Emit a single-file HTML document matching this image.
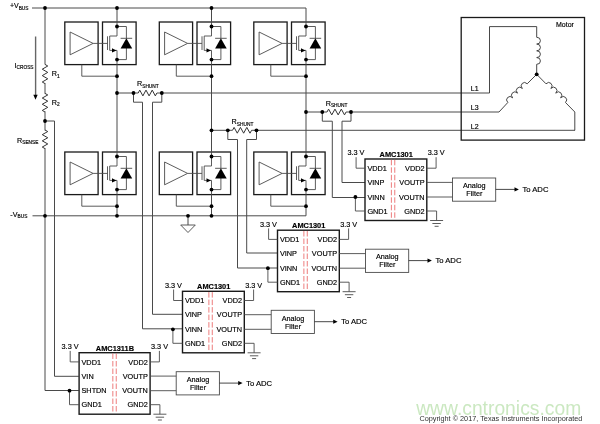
<!DOCTYPE html>
<html><head><meta charset="utf-8"><title>Motor drive current sensing</title>
<style>
html,body{margin:0;padding:0;background:#fff;}
svg{display:block;will-change:transform;filter:opacity(0.999);}
text{font-family:"Liberation Sans",Arial,sans-serif;stroke:#000;stroke-width:0.16px;}
</style></head>
<body>
<svg width="600" height="424" viewBox="0 0 600 424">
<rect width="600" height="424" fill="#fff"/>
<rect x="64.8" y="22" width="33.3" height="42.6" fill="none" stroke="#1a1a1a" stroke-width="1.3"/>
<rect x="102.5" y="22" width="33.6" height="42.6" fill="none" stroke="#1a1a1a" stroke-width="1.3"/>
<path d="M70.1 32 L70.1 54.8 L93.1 43.4 Z" fill="none" stroke="#4a4a4a" stroke-width="0.9"/>
<path d="M93.1 43.4 L107.5 43.4" fill="none" stroke="#4a4a4a" stroke-width="0.9" />
<path d="M107.5 36.3 L107.5 50" fill="none" stroke="#4a4a4a" stroke-width="0.9" />
<path d="M117 22 L117 36 L109.7 36 L109.7 50.4 L112.8 50.4" fill="none" stroke="#4a4a4a" stroke-width="0.9" />
<path d="M112.8 50.4 L117 50.4 L117 64.6" fill="none" stroke="#4a4a4a" stroke-width="0.9" />
<path d="M112 48.2 L116.4 50.4 L112 52.6 Z" fill="#000"/>
<path d="M117 26.5 L126.4 26.5 L126.4 38.4" fill="none" stroke="#4a4a4a" stroke-width="0.9" />
<path d="M126.4 48 L126.4 59.6 L117 59.6" fill="none" stroke="#4a4a4a" stroke-width="0.9" />
<path d="M120.6 38.3 L132.2 38.3" fill="none" stroke="#4a4a4a" stroke-width="0.9" />
<path d="M126.4 38.3 L132.2 48.4 L120.6 48.4 Z" fill="#000"/>
<path d="M81.8 64.6 L81.8 76.2 L117 76.2" fill="none" stroke="#4a4a4a" stroke-width="0.9" />
<rect x="64.8" y="152" width="33.3" height="42.6" fill="none" stroke="#1a1a1a" stroke-width="1.3"/>
<rect x="102.5" y="152" width="33.6" height="42.6" fill="none" stroke="#1a1a1a" stroke-width="1.3"/>
<path d="M70.1 162 L70.1 184.8 L93.1 173.4 Z" fill="none" stroke="#4a4a4a" stroke-width="0.9"/>
<path d="M93.1 173.4 L107.5 173.4" fill="none" stroke="#4a4a4a" stroke-width="0.9" />
<path d="M107.5 166.3 L107.5 180" fill="none" stroke="#4a4a4a" stroke-width="0.9" />
<path d="M117 152 L117 166 L109.7 166 L109.7 180.4 L112.8 180.4" fill="none" stroke="#4a4a4a" stroke-width="0.9" />
<path d="M112.8 180.4 L117 180.4 L117 194.6" fill="none" stroke="#4a4a4a" stroke-width="0.9" />
<path d="M112 178.2 L116.4 180.4 L112 182.6 Z" fill="#000"/>
<path d="M117 156.5 L126.4 156.5 L126.4 168.4" fill="none" stroke="#4a4a4a" stroke-width="0.9" />
<path d="M126.4 178 L126.4 189.6 L117 189.6" fill="none" stroke="#4a4a4a" stroke-width="0.9" />
<path d="M120.6 168.3 L132.2 168.3" fill="none" stroke="#4a4a4a" stroke-width="0.9" />
<path d="M126.4 168.3 L132.2 178.4 L120.6 178.4 Z" fill="#000"/>
<path d="M81.8 194.6 L81.8 206.2 L117 206.2" fill="none" stroke="#4a4a4a" stroke-width="0.9" />
<rect x="159.3" y="22" width="33.3" height="42.6" fill="none" stroke="#1a1a1a" stroke-width="1.3"/>
<rect x="197" y="22" width="33.6" height="42.6" fill="none" stroke="#1a1a1a" stroke-width="1.3"/>
<path d="M164.6 32 L164.6 54.8 L187.6 43.4 Z" fill="none" stroke="#4a4a4a" stroke-width="0.9"/>
<path d="M187.6 43.4 L202 43.4" fill="none" stroke="#4a4a4a" stroke-width="0.9" />
<path d="M202 36.3 L202 50" fill="none" stroke="#4a4a4a" stroke-width="0.9" />
<path d="M211.5 22 L211.5 36 L204.2 36 L204.2 50.4 L207.3 50.4" fill="none" stroke="#4a4a4a" stroke-width="0.9" />
<path d="M207.3 50.4 L211.5 50.4 L211.5 64.6" fill="none" stroke="#4a4a4a" stroke-width="0.9" />
<path d="M206.5 48.2 L210.9 50.4 L206.5 52.6 Z" fill="#000"/>
<path d="M211.5 26.5 L220.9 26.5 L220.9 38.4" fill="none" stroke="#4a4a4a" stroke-width="0.9" />
<path d="M220.9 48 L220.9 59.6 L211.5 59.6" fill="none" stroke="#4a4a4a" stroke-width="0.9" />
<path d="M215.1 38.3 L226.7 38.3" fill="none" stroke="#4a4a4a" stroke-width="0.9" />
<path d="M220.9 38.3 L226.7 48.4 L215.1 48.4 Z" fill="#000"/>
<path d="M176.3 64.6 L176.3 76.2 L211.5 76.2" fill="none" stroke="#4a4a4a" stroke-width="0.9" />
<rect x="159.3" y="152" width="33.3" height="42.6" fill="none" stroke="#1a1a1a" stroke-width="1.3"/>
<rect x="197" y="152" width="33.6" height="42.6" fill="none" stroke="#1a1a1a" stroke-width="1.3"/>
<path d="M164.6 162 L164.6 184.8 L187.6 173.4 Z" fill="none" stroke="#4a4a4a" stroke-width="0.9"/>
<path d="M187.6 173.4 L202 173.4" fill="none" stroke="#4a4a4a" stroke-width="0.9" />
<path d="M202 166.3 L202 180" fill="none" stroke="#4a4a4a" stroke-width="0.9" />
<path d="M211.5 152 L211.5 166 L204.2 166 L204.2 180.4 L207.3 180.4" fill="none" stroke="#4a4a4a" stroke-width="0.9" />
<path d="M207.3 180.4 L211.5 180.4 L211.5 194.6" fill="none" stroke="#4a4a4a" stroke-width="0.9" />
<path d="M206.5 178.2 L210.9 180.4 L206.5 182.6 Z" fill="#000"/>
<path d="M211.5 156.5 L220.9 156.5 L220.9 168.4" fill="none" stroke="#4a4a4a" stroke-width="0.9" />
<path d="M220.9 178 L220.9 189.6 L211.5 189.6" fill="none" stroke="#4a4a4a" stroke-width="0.9" />
<path d="M215.1 168.3 L226.7 168.3" fill="none" stroke="#4a4a4a" stroke-width="0.9" />
<path d="M220.9 168.3 L226.7 178.4 L215.1 178.4 Z" fill="#000"/>
<path d="M176.3 194.6 L176.3 206.2 L211.5 206.2" fill="none" stroke="#4a4a4a" stroke-width="0.9" />
<rect x="253.8" y="22" width="33.3" height="42.6" fill="none" stroke="#1a1a1a" stroke-width="1.3"/>
<rect x="291.5" y="22" width="33.6" height="42.6" fill="none" stroke="#1a1a1a" stroke-width="1.3"/>
<path d="M259.1 32 L259.1 54.8 L282.1 43.4 Z" fill="none" stroke="#4a4a4a" stroke-width="0.9"/>
<path d="M282.1 43.4 L296.5 43.4" fill="none" stroke="#4a4a4a" stroke-width="0.9" />
<path d="M296.5 36.3 L296.5 50" fill="none" stroke="#4a4a4a" stroke-width="0.9" />
<path d="M306 22 L306 36 L298.7 36 L298.7 50.4 L301.8 50.4" fill="none" stroke="#4a4a4a" stroke-width="0.9" />
<path d="M301.8 50.4 L306 50.4 L306 64.6" fill="none" stroke="#4a4a4a" stroke-width="0.9" />
<path d="M301 48.2 L305.4 50.4 L301 52.6 Z" fill="#000"/>
<path d="M306 26.5 L315.4 26.5 L315.4 38.4" fill="none" stroke="#4a4a4a" stroke-width="0.9" />
<path d="M315.4 48 L315.4 59.6 L306 59.6" fill="none" stroke="#4a4a4a" stroke-width="0.9" />
<path d="M309.6 38.3 L321.2 38.3" fill="none" stroke="#4a4a4a" stroke-width="0.9" />
<path d="M315.4 38.3 L321.2 48.4 L309.6 48.4 Z" fill="#000"/>
<path d="M270.8 64.6 L270.8 76.2 L306 76.2" fill="none" stroke="#4a4a4a" stroke-width="0.9" />
<rect x="253.8" y="152" width="33.3" height="42.6" fill="none" stroke="#1a1a1a" stroke-width="1.3"/>
<rect x="291.5" y="152" width="33.6" height="42.6" fill="none" stroke="#1a1a1a" stroke-width="1.3"/>
<path d="M259.1 162 L259.1 184.8 L282.1 173.4 Z" fill="none" stroke="#4a4a4a" stroke-width="0.9"/>
<path d="M282.1 173.4 L296.5 173.4" fill="none" stroke="#4a4a4a" stroke-width="0.9" />
<path d="M296.5 166.3 L296.5 180" fill="none" stroke="#4a4a4a" stroke-width="0.9" />
<path d="M306 152 L306 166 L298.7 166 L298.7 180.4 L301.8 180.4" fill="none" stroke="#4a4a4a" stroke-width="0.9" />
<path d="M301.8 180.4 L306 180.4 L306 194.6" fill="none" stroke="#4a4a4a" stroke-width="0.9" />
<path d="M301 178.2 L305.4 180.4 L301 182.6 Z" fill="#000"/>
<path d="M306 156.5 L315.4 156.5 L315.4 168.4" fill="none" stroke="#4a4a4a" stroke-width="0.9" />
<path d="M315.4 178 L315.4 189.6 L306 189.6" fill="none" stroke="#4a4a4a" stroke-width="0.9" />
<path d="M309.6 168.3 L321.2 168.3" fill="none" stroke="#4a4a4a" stroke-width="0.9" />
<path d="M315.4 168.3 L321.2 178.4 L309.6 178.4 Z" fill="#000"/>
<path d="M270.8 194.6 L270.8 206.2 L306 206.2" fill="none" stroke="#4a4a4a" stroke-width="0.9" />
<path d="M117 8 L117 22" fill="none" stroke="#4a4a4a" stroke-width="1.0" />
<path d="M117 64.6 L117 152" fill="none" stroke="#4a4a4a" stroke-width="1.0" />
<path d="M117 194.6 L117 215.8" fill="none" stroke="#4a4a4a" stroke-width="1.0" />
<path d="M211.5 8 L211.5 22" fill="none" stroke="#4a4a4a" stroke-width="1.0" />
<path d="M211.5 64.6 L211.5 152" fill="none" stroke="#4a4a4a" stroke-width="1.0" />
<path d="M211.5 194.6 L211.5 215.8" fill="none" stroke="#4a4a4a" stroke-width="1.0" />
<path d="M306 8 L306 22" fill="none" stroke="#4a4a4a" stroke-width="1.0" />
<path d="M306 64.6 L306 152" fill="none" stroke="#4a4a4a" stroke-width="1.0" />
<path d="M306 194.6 L306 215.8" fill="none" stroke="#4a4a4a" stroke-width="1.0" />
<path d="M32 8 L306 8" fill="none" stroke="#4a4a4a" stroke-width="1.0" />
<path d="M32.5 215.8 L306 215.8" fill="none" stroke="#4a4a4a" stroke-width="1.0" />
<path d="M45 8 L45 64.5" fill="none" stroke="#4a4a4a" stroke-width="1.0" />
<path d="M45 64.4 L47.75 66 L42.25 69.2 L47.75 72.4 L42.25 75.6 L47.75 78.8 L42.25 82 L45 83.6" fill="none" stroke="#333" stroke-width="1.0" />
<path d="M45 83 L45 93.8" fill="none" stroke="#4a4a4a" stroke-width="1.0" />
<path d="M45 93.4 L47.75 94.95 L42.25 98.05 L47.75 101.15 L42.25 104.25 L47.75 107.35 L42.25 110.45 L45 112" fill="none" stroke="#333" stroke-width="1.0" />
<path d="M45 111.3 L45 130.5" fill="none" stroke="#4a4a4a" stroke-width="1.0" />
<path d="M45 130 L47.75 131.55 L42.25 134.65 L47.75 137.75 L42.25 140.85 L47.75 143.95 L42.25 147.05 L45 148.6" fill="none" stroke="#333" stroke-width="1.0" />
<path d="M45 148 L45 390.5 L78.8 390.5" fill="none" stroke="#4a4a4a" stroke-width="1.0" />
<path d="M45 121 L54.5 121 L54.5 376.3 L78.8 376.3" fill="none" stroke="#4a4a4a" stroke-width="1.0" />
<path d="M35.6 36.5 L35.6 96" fill="none" stroke="#666" stroke-width="1.4" />
<path d="M33.3 94.8 L37.7 94.8 L35.5 99.8 Z" fill="#000"/>
<path d="M188 215.8 L188 225" fill="none" stroke="#4a4a4a" stroke-width="1.0" />
<path d="M180.7 225 L195.3 225 L188 232.5 Z" fill="none" stroke="#4a4a4a" stroke-width="0.9"/>
<path d="M117 93 L133.5 93" fill="none" stroke="#4a4a4a" stroke-width="1.0" />
<path d="M138.2 93 L139.758 90.1 L142.875 95.9 L145.992 90.1 L149.108 95.9 L152.225 90.1 L155.342 95.9 L156.9 93" fill="none" stroke="#333" stroke-width="1.0" />
<path d="M133.5 93 L138.2 93" fill="none" stroke="#4a4a4a" stroke-width="1.0" />
<path d="M156.9 93 L161.8 93" fill="none" stroke="#4a4a4a" stroke-width="1.0" />
<path d="M161.8 93 L489.5 93" fill="none" stroke="#4a4a4a" stroke-width="1.0" />
<path d="M133.5 93 L133.5 102.2 L142.5 102.2 L142.5 328.8 L182.5 328.8" fill="none" stroke="#4a4a4a" stroke-width="1.0" />
<path d="M161.8 93 L161.8 102.2 L152.5 102.2 L152.5 314.3 L182.5 314.3" fill="none" stroke="#4a4a4a" stroke-width="1.0" />
<path d="M211.5 130.3 L227.8 130.3" fill="none" stroke="#4a4a4a" stroke-width="1.0" />
<path d="M232.5 130.3 L234.092 127.4 L237.275 133.2 L240.458 127.4 L243.642 133.2 L246.825 127.4 L250.008 133.2 L251.6 130.3" fill="none" stroke="#333" stroke-width="1.0" />
<path d="M227.8 130.3 L232.5 130.3" fill="none" stroke="#4a4a4a" stroke-width="1.0" />
<path d="M251.6 130.3 L256.5 130.3" fill="none" stroke="#4a4a4a" stroke-width="1.0" />
<path d="M256.5 130.3 L575 130.3" fill="none" stroke="#4a4a4a" stroke-width="1.0" />
<path d="M227.8 130.3 L227.8 139.5 L237.5 139.5 L237.5 268 L277.5 268" fill="none" stroke="#4a4a4a" stroke-width="1.0" />
<path d="M256.5 130.3 L256.5 139.5 L246.7 139.5 L246.7 253 L277.5 253" fill="none" stroke="#4a4a4a" stroke-width="1.0" />
<path d="M306 112 L322.3 112" fill="none" stroke="#4a4a4a" stroke-width="1.0" />
<path d="M327 112 L328.592 109.1 L331.775 114.9 L334.958 109.1 L338.142 114.9 L341.325 109.1 L344.508 114.9 L346.1 112" fill="none" stroke="#333" stroke-width="1.0" />
<path d="M322.3 112 L327 112" fill="none" stroke="#4a4a4a" stroke-width="1.0" />
<path d="M346.1 112 L351 112" fill="none" stroke="#4a4a4a" stroke-width="1.0" />
<path d="M351 112 L499 112" fill="none" stroke="#4a4a4a" stroke-width="1.0" />
<path d="M322.3 112 L322.3 121.2 L332.3 121.2 L332.3 197.5 L365 197.5" fill="none" stroke="#4a4a4a" stroke-width="1.0" />
<path d="M351 112 L351 121.2 L342 121.2 L342 182.5 L365 182.5" fill="none" stroke="#4a4a4a" stroke-width="1.0" />
<rect x="461.2" y="17.5" width="123.3" height="122.6" fill="none" stroke="#1a1a1a" stroke-width="1.3"/>
<path d="M489.5 93 L489.5 26.6 L536.7 26.6 L536.7 37.3" fill="none" stroke="#333" stroke-width="0.9" />
<path d="M536.7 37.3 A3.21 3.54 90.0 0 1 536.70 44.05 A3.21 3.54 90.0 0 1 536.70 50.80 A3.21 3.54 90.0 0 1 536.70 57.55 A3.21 3.54 90.0 0 1 536.70 64.30" fill="none" stroke="#333" stroke-width="0.9"/>
<path d="M536.7 64.3 L536.7 74.3" fill="none" stroke="#333" stroke-width="0.9" />
<path d="M499 112 L507.8 102.5" fill="none" stroke="#333" stroke-width="0.9" />
<path d="M507.8 102.5 A3.20 3.54 -43.9 0 1 512.65 97.83 A3.20 3.54 -43.9 0 1 517.50 93.15 A3.20 3.54 -43.9 0 1 522.35 88.47 A3.20 3.54 -43.9 0 1 527.20 83.80" fill="none" stroke="#333" stroke-width="0.9"/>
<path d="M527.2 83.8 L536.7 74.3" fill="none" stroke="#333" stroke-width="0.9" />
<path d="M536.7 74.3 L546 83.8" fill="none" stroke="#333" stroke-width="0.9" />
<path d="M546 83.8 A3.21 3.55 43.8 0 1 550.88 88.47 A3.21 3.55 43.8 0 1 555.75 93.15 A3.21 3.55 43.8 0 1 560.62 97.83 A3.21 3.55 43.8 0 1 565.50 102.50" fill="none" stroke="#333" stroke-width="0.9"/>
<path d="M565.5 102.5 L574.8 112 L574.8 130.3" fill="none" stroke="#333" stroke-width="0.9" />
<text x="556" y="26.7" font-size="7" text-anchor="start" font-weight="normal" fill="#000" >Motor</text>
<text x="470.8" y="90.7" font-size="7.0" text-anchor="start" font-weight="normal" fill="#000" >L1</text>
<text x="470.8" y="109.8" font-size="7.0" text-anchor="start" font-weight="normal" fill="#000" >L3</text>
<text x="470.8" y="128.9" font-size="7.0" text-anchor="start" font-weight="normal" fill="#000" >L2</text>
<rect x="365" y="159" width="61.8" height="61.5" fill="none" stroke="#1a1a1a" stroke-width="1.4"/>
<text x="396.2" y="156.8" font-size="7.4" text-anchor="middle" font-weight="bold" fill="#000" >AMC1301</text>
<text x="367.4" y="170.8" font-size="7.3" text-anchor="start" font-weight="normal" fill="#000" >VDD1</text>
<text x="367.4" y="185" font-size="7.3" text-anchor="start" font-weight="normal" fill="#000" >VINP</text>
<text x="367.4" y="199.6" font-size="7.3" text-anchor="start" font-weight="normal" fill="#000" >VINN</text>
<text x="367.4" y="213.6" font-size="7.3" text-anchor="start" font-weight="normal" fill="#000" >GND1</text>
<text x="424.5" y="170.8" font-size="7.3" text-anchor="end" font-weight="normal" fill="#000" >VDD2</text>
<text x="424.5" y="185" font-size="7.3" text-anchor="end" font-weight="normal" fill="#000" >VOUTP</text>
<text x="424.5" y="199.6" font-size="7.3" text-anchor="end" font-weight="normal" fill="#000" >VOUTN</text>
<text x="424.5" y="213.6" font-size="7.3" text-anchor="end" font-weight="normal" fill="#000" >GND2</text>
<path d="M391.38 159.8 L391.38 219.7" stroke="#e85a5a" stroke-width="0.8" stroke-dasharray="5.5 2" fill="none"/>
<path d="M394.78 159.8 L394.78 219.7" stroke="#e85a5a" stroke-width="0.8" stroke-dasharray="5.5 2" fill="none"/>
<text x="364.5" y="155.4" font-size="7.3" text-anchor="end" font-weight="normal" fill="#000" >3.3 V</text>
<path d="M356.1 157.2 L356.1 168.2 L365 168.2" fill="none" stroke="#4a4a4a" stroke-width="0.9" />
<path d="M355.4 197 L355.4 211 L365 211" fill="none" stroke="#4a4a4a" stroke-width="0.9" />
<text x="427.7" y="155.4" font-size="7.3" text-anchor="start" font-weight="normal" fill="#000" >3.3 V</text>
<path d="M426.8 168.2 L436.1 168.2 L436.1 157.2" fill="none" stroke="#4a4a4a" stroke-width="0.9" />
<path d="M426.8 211 L436.6 211 L436.6 220.5" fill="none" stroke="#4a4a4a" stroke-width="0.9" />
<path d="M430.1 220.5 L443.1 220.5" fill="none" stroke="#4a4a4a" stroke-width="0.9" />
<path d="M432.4 223.5 L440.8 223.5" fill="none" stroke="#4a4a4a" stroke-width="0.9" />
<path d="M434.6 226.3 L438.6 226.3" fill="none" stroke="#4a4a4a" stroke-width="0.9" />
<path d="M426.8 182.4 L452.5 182.4" fill="none" stroke="#4a4a4a" stroke-width="0.9" />
<path d="M426.8 197 L452.5 197" fill="none" stroke="#4a4a4a" stroke-width="0.9" />
<rect x="452.5" y="178" width="43.2" height="23.2" fill="none" stroke="#4a4a4a" stroke-width="0.9"/>
<text x="474.3" y="188.2" font-size="7.25" text-anchor="middle" font-weight="normal" fill="#000" >Analog</text>
<text x="474.3" y="196.2" font-size="7.25" text-anchor="middle" font-weight="normal" fill="#000" >Filter</text>
<path d="M495.7 189.4 L515 189.4" fill="none" stroke="#333" stroke-width="0.9" />
<path d="M514.5 187.3 L518.9 189.4 L514.5 191.5 Z" fill="#000"/>
<text x="522.5" y="192.15" font-size="7.65" text-anchor="start" font-weight="normal" fill="#000" >To ADC</text>
<rect x="277.5" y="230.2" width="61.8" height="61.5" fill="none" stroke="#1a1a1a" stroke-width="1.4"/>
<text x="308.7" y="228" font-size="7.4" text-anchor="middle" font-weight="bold" fill="#000" >AMC1301</text>
<text x="279.9" y="242" font-size="7.3" text-anchor="start" font-weight="normal" fill="#000" >VDD1</text>
<text x="279.9" y="256.2" font-size="7.3" text-anchor="start" font-weight="normal" fill="#000" >VINP</text>
<text x="279.9" y="270.8" font-size="7.3" text-anchor="start" font-weight="normal" fill="#000" >VINN</text>
<text x="279.9" y="284.8" font-size="7.3" text-anchor="start" font-weight="normal" fill="#000" >GND1</text>
<text x="337" y="242" font-size="7.3" text-anchor="end" font-weight="normal" fill="#000" >VDD2</text>
<text x="337" y="256.2" font-size="7.3" text-anchor="end" font-weight="normal" fill="#000" >VOUTP</text>
<text x="337" y="270.8" font-size="7.3" text-anchor="end" font-weight="normal" fill="#000" >VOUTN</text>
<text x="337" y="284.8" font-size="7.3" text-anchor="end" font-weight="normal" fill="#000" >GND2</text>
<path d="M303.88 231 L303.88 290.9" stroke="#e85a5a" stroke-width="0.8" stroke-dasharray="5.5 2" fill="none"/>
<path d="M307.28 231 L307.28 290.9" stroke="#e85a5a" stroke-width="0.8" stroke-dasharray="5.5 2" fill="none"/>
<text x="277" y="226.6" font-size="7.3" text-anchor="end" font-weight="normal" fill="#000" >3.3 V</text>
<path d="M268.6 228.4 L268.6 239.4 L277.5 239.4" fill="none" stroke="#4a4a4a" stroke-width="0.9" />
<path d="M267.9 268.2 L267.9 282.2 L277.5 282.2" fill="none" stroke="#4a4a4a" stroke-width="0.9" />
<text x="340.2" y="226.6" font-size="7.3" text-anchor="start" font-weight="normal" fill="#000" >3.3 V</text>
<path d="M339.3 239.4 L348.6 239.4 L348.6 228.4" fill="none" stroke="#4a4a4a" stroke-width="0.9" />
<path d="M339.3 282.2 L349.1 282.2 L349.1 291.7" fill="none" stroke="#4a4a4a" stroke-width="0.9" />
<path d="M342.6 291.7 L355.6 291.7" fill="none" stroke="#4a4a4a" stroke-width="0.9" />
<path d="M344.9 294.7 L353.3 294.7" fill="none" stroke="#4a4a4a" stroke-width="0.9" />
<path d="M347.1 297.5 L351.1 297.5" fill="none" stroke="#4a4a4a" stroke-width="0.9" />
<path d="M339.3 253.6 L365.5 253.6" fill="none" stroke="#4a4a4a" stroke-width="0.9" />
<path d="M339.3 268.2 L365.5 268.2" fill="none" stroke="#4a4a4a" stroke-width="0.9" />
<rect x="365.5" y="249.2" width="43.2" height="23.2" fill="none" stroke="#4a4a4a" stroke-width="0.9"/>
<text x="387.3" y="259.4" font-size="7.25" text-anchor="middle" font-weight="normal" fill="#000" >Analog</text>
<text x="387.3" y="267.4" font-size="7.25" text-anchor="middle" font-weight="normal" fill="#000" >Filter</text>
<path d="M408.7 260.6 L428 260.6" fill="none" stroke="#333" stroke-width="0.9" />
<path d="M427.5 258.5 L431.9 260.6 L427.5 262.7 Z" fill="#000"/>
<text x="435.5" y="263.35" font-size="7.65" text-anchor="start" font-weight="normal" fill="#000" >To ADC</text>
<rect x="182.5" y="291.3" width="61.8" height="61.5" fill="none" stroke="#1a1a1a" stroke-width="1.4"/>
<text x="213.7" y="289.1" font-size="7.4" text-anchor="middle" font-weight="bold" fill="#000" >AMC1301</text>
<text x="184.9" y="303.1" font-size="7.3" text-anchor="start" font-weight="normal" fill="#000" >VDD1</text>
<text x="184.9" y="317.3" font-size="7.3" text-anchor="start" font-weight="normal" fill="#000" >VINP</text>
<text x="184.9" y="331.9" font-size="7.3" text-anchor="start" font-weight="normal" fill="#000" >VINN</text>
<text x="184.9" y="345.9" font-size="7.3" text-anchor="start" font-weight="normal" fill="#000" >GND1</text>
<text x="242" y="303.1" font-size="7.3" text-anchor="end" font-weight="normal" fill="#000" >VDD2</text>
<text x="242" y="317.3" font-size="7.3" text-anchor="end" font-weight="normal" fill="#000" >VOUTP</text>
<text x="242" y="331.9" font-size="7.3" text-anchor="end" font-weight="normal" fill="#000" >VOUTN</text>
<text x="242" y="345.9" font-size="7.3" text-anchor="end" font-weight="normal" fill="#000" >GND2</text>
<path d="M208.88 292.1 L208.88 352" stroke="#e85a5a" stroke-width="0.8" stroke-dasharray="5.5 2" fill="none"/>
<path d="M212.28 292.1 L212.28 352" stroke="#e85a5a" stroke-width="0.8" stroke-dasharray="5.5 2" fill="none"/>
<text x="182" y="287.7" font-size="7.3" text-anchor="end" font-weight="normal" fill="#000" >3.3 V</text>
<path d="M173.6 289.5 L173.6 300.5 L182.5 300.5" fill="none" stroke="#4a4a4a" stroke-width="0.9" />
<path d="M172.9 329.3 L172.9 343.3 L182.5 343.3" fill="none" stroke="#4a4a4a" stroke-width="0.9" />
<text x="245.2" y="287.7" font-size="7.3" text-anchor="start" font-weight="normal" fill="#000" >3.3 V</text>
<path d="M244.3 300.5 L253.6 300.5 L253.6 289.5" fill="none" stroke="#4a4a4a" stroke-width="0.9" />
<path d="M244.3 343.3 L254.1 343.3 L254.1 352.8" fill="none" stroke="#4a4a4a" stroke-width="0.9" />
<path d="M247.6 352.8 L260.6 352.8" fill="none" stroke="#4a4a4a" stroke-width="0.9" />
<path d="M249.9 355.8 L258.3 355.8" fill="none" stroke="#4a4a4a" stroke-width="0.9" />
<path d="M252.1 358.6 L256.1 358.6" fill="none" stroke="#4a4a4a" stroke-width="0.9" />
<path d="M244.3 314.7 L271.2 314.7" fill="none" stroke="#4a4a4a" stroke-width="0.9" />
<path d="M244.3 329.3 L271.2 329.3" fill="none" stroke="#4a4a4a" stroke-width="0.9" />
<rect x="271.2" y="310.3" width="43.2" height="23.2" fill="none" stroke="#4a4a4a" stroke-width="0.9"/>
<text x="293" y="320.5" font-size="7.25" text-anchor="middle" font-weight="normal" fill="#000" >Analog</text>
<text x="293" y="328.5" font-size="7.25" text-anchor="middle" font-weight="normal" fill="#000" >Filter</text>
<path d="M314.4 321.7 L333.7 321.7" fill="none" stroke="#333" stroke-width="0.9" />
<path d="M333.2 319.6 L337.6 321.7 L333.2 323.8 Z" fill="#000"/>
<text x="341.2" y="324.45" font-size="7.65" text-anchor="start" font-weight="normal" fill="#000" >To ADC</text>
<rect x="79.1" y="352.7" width="71" height="61.5" fill="none" stroke="#1a1a1a" stroke-width="1.4"/>
<text x="114.9" y="350.5" font-size="7.4" text-anchor="middle" font-weight="bold" fill="#000" >AMC1311B</text>
<text x="81.5" y="364.5" font-size="7.3" text-anchor="start" font-weight="normal" fill="#000" >VDD1</text>
<text x="81.5" y="378.7" font-size="7.3" text-anchor="start" font-weight="normal" fill="#000" >VIN</text>
<text x="81.5" y="393.3" font-size="7.3" text-anchor="start" font-weight="normal" fill="#000" >SHTDN</text>
<text x="81.5" y="407.3" font-size="7.3" text-anchor="start" font-weight="normal" fill="#000" >GND1</text>
<text x="147.8" y="364.5" font-size="7.3" text-anchor="end" font-weight="normal" fill="#000" >VDD2</text>
<text x="147.8" y="378.7" font-size="7.3" text-anchor="end" font-weight="normal" fill="#000" >VOUTP</text>
<text x="147.8" y="393.3" font-size="7.3" text-anchor="end" font-weight="normal" fill="#000" >VOUTN</text>
<text x="147.8" y="407.3" font-size="7.3" text-anchor="end" font-weight="normal" fill="#000" >GND2</text>
<path d="M112.84 353.5 L112.84 413.4" stroke="#e85a5a" stroke-width="0.8" stroke-dasharray="5.5 2" fill="none"/>
<path d="M116.24 353.5 L116.24 413.4" stroke="#e85a5a" stroke-width="0.8" stroke-dasharray="5.5 2" fill="none"/>
<text x="78.6" y="349.1" font-size="7.3" text-anchor="end" font-weight="normal" fill="#000" >3.3 V</text>
<path d="M70.2 350.9 L70.2 361.9 L79.1 361.9" fill="none" stroke="#4a4a4a" stroke-width="0.9" />
<path d="M69.5 390.7 L69.5 404.7 L79.1 404.7" fill="none" stroke="#4a4a4a" stroke-width="0.9" />
<text x="151" y="349.1" font-size="7.3" text-anchor="start" font-weight="normal" fill="#000" >3.3 V</text>
<path d="M150.1 361.9 L159.4 361.9 L159.4 350.9" fill="none" stroke="#4a4a4a" stroke-width="0.9" />
<path d="M150.1 404.7 L159.9 404.7 L159.9 414.2" fill="none" stroke="#4a4a4a" stroke-width="0.9" />
<path d="M153.4 414.2 L166.4 414.2" fill="none" stroke="#4a4a4a" stroke-width="0.9" />
<path d="M155.7 417.2 L164.1 417.2" fill="none" stroke="#4a4a4a" stroke-width="0.9" />
<path d="M157.9 420 L161.9 420" fill="none" stroke="#4a4a4a" stroke-width="0.9" />
<path d="M150.1 376.1 L176.2 376.1" fill="none" stroke="#4a4a4a" stroke-width="0.9" />
<path d="M150.1 390.7 L176.2 390.7" fill="none" stroke="#4a4a4a" stroke-width="0.9" />
<rect x="176.2" y="371.7" width="43.2" height="23.2" fill="none" stroke="#4a4a4a" stroke-width="0.9"/>
<text x="198" y="381.9" font-size="7.25" text-anchor="middle" font-weight="normal" fill="#000" >Analog</text>
<text x="198" y="389.9" font-size="7.25" text-anchor="middle" font-weight="normal" fill="#000" >Filter</text>
<path d="M219.4 383.1 L238.7 383.1" fill="none" stroke="#333" stroke-width="0.9" />
<path d="M238.2 381 L242.6 383.1 L238.2 385.2 Z" fill="#000"/>
<text x="246.2" y="385.85" font-size="7.65" text-anchor="start" font-weight="normal" fill="#000" >To ADC</text>
<text x="9.9" y="8.3" font-size="7.0" fill="#000">+V<tspan font-size="4.8" dy="1.4">BUS</tspan></text>
<text x="10.3" y="216.5" font-size="7.2" fill="#000">-V<tspan font-size="4.8" dy="1.4">BUS</tspan></text>
<text x="14.5" y="67.8" font-size="7.2" fill="#000">I<tspan font-size="4.8" dy="1.4">CROSS</tspan></text>
<text x="51.7" y="76.4" font-size="7.2" fill="#000">R<tspan font-size="4.8" dy="1.4">1</tspan></text>
<text x="51.7" y="105" font-size="7.2" fill="#000">R<tspan font-size="4.8" dy="1.4">2</tspan></text>
<text x="17" y="142.6" font-size="7.2" fill="#000">R<tspan font-size="4.8" dy="1.4">SENSE</tspan></text>
<text x="137" y="86.4" font-size="7.2" fill="#000">R<tspan font-size="4.8" dy="1.4">SHUNT</tspan></text>
<text x="231.6" y="124.4" font-size="7.2" fill="#000">R<tspan font-size="4.8" dy="1.4">SHUNT</tspan></text>
<text x="325.7" y="105.6" font-size="7.2" fill="#000">R<tspan font-size="4.8" dy="1.4">SHUNT</tspan></text>
<text x="416.2" y="414.7" font-size="19.3" text-anchor="start" font-weight="normal" fill="#cbe8c1" style="stroke:none">www.cntronics.com</text>
<text x="419.4" y="420.8" font-size="7.3" text-anchor="start" font-weight="normal" fill="#333" style="stroke:none">Copyright © 2017, Texas Instruments Incorporated</text>
<circle cx="117" cy="26.5" r="1.9" fill="#000"/>
<circle cx="117" cy="59.6" r="1.9" fill="#000"/>
<circle cx="117" cy="76.2" r="1.9" fill="#000"/>
<circle cx="117" cy="156.5" r="1.9" fill="#000"/>
<circle cx="117" cy="189.6" r="1.9" fill="#000"/>
<circle cx="117" cy="206.2" r="1.9" fill="#000"/>
<circle cx="211.5" cy="26.5" r="1.9" fill="#000"/>
<circle cx="211.5" cy="59.6" r="1.9" fill="#000"/>
<circle cx="211.5" cy="76.2" r="1.9" fill="#000"/>
<circle cx="211.5" cy="156.5" r="1.9" fill="#000"/>
<circle cx="211.5" cy="189.6" r="1.9" fill="#000"/>
<circle cx="211.5" cy="206.2" r="1.9" fill="#000"/>
<circle cx="306" cy="26.5" r="1.9" fill="#000"/>
<circle cx="306" cy="59.6" r="1.9" fill="#000"/>
<circle cx="306" cy="76.2" r="1.9" fill="#000"/>
<circle cx="306" cy="156.5" r="1.9" fill="#000"/>
<circle cx="306" cy="189.6" r="1.9" fill="#000"/>
<circle cx="306" cy="206.2" r="1.9" fill="#000"/>
<circle cx="117" cy="8" r="1.9" fill="#000"/>
<circle cx="117" cy="215.8" r="1.9" fill="#000"/>
<circle cx="211.5" cy="8" r="1.9" fill="#000"/>
<circle cx="211.5" cy="215.8" r="1.9" fill="#000"/>
<circle cx="45" cy="8" r="1.9" fill="#000"/>
<circle cx="45" cy="215.8" r="1.9" fill="#000"/>
<circle cx="45" cy="121" r="1.9" fill="#000"/>
<circle cx="188" cy="215.8" r="1.9" fill="#000"/>
<circle cx="117" cy="93" r="1.9" fill="#000"/>
<circle cx="133.5" cy="93" r="1.9" fill="#000"/>
<circle cx="161.8" cy="93" r="1.9" fill="#000"/>
<circle cx="211.5" cy="130.3" r="1.9" fill="#000"/>
<circle cx="227.8" cy="130.3" r="1.9" fill="#000"/>
<circle cx="256.5" cy="130.3" r="1.9" fill="#000"/>
<circle cx="306" cy="112" r="1.9" fill="#000"/>
<circle cx="322.3" cy="112" r="1.9" fill="#000"/>
<circle cx="351" cy="112" r="1.9" fill="#000"/>
<circle cx="536.7" cy="74.3" r="1.9" fill="#000"/>
<circle cx="355.4" cy="197" r="1.9" fill="#000"/>
<circle cx="267.9" cy="268.2" r="1.9" fill="#000"/>
<circle cx="172.9" cy="329.3" r="1.9" fill="#000"/>
<circle cx="69.5" cy="390.7" r="1.9" fill="#000"/>
</svg>
</body></html>
